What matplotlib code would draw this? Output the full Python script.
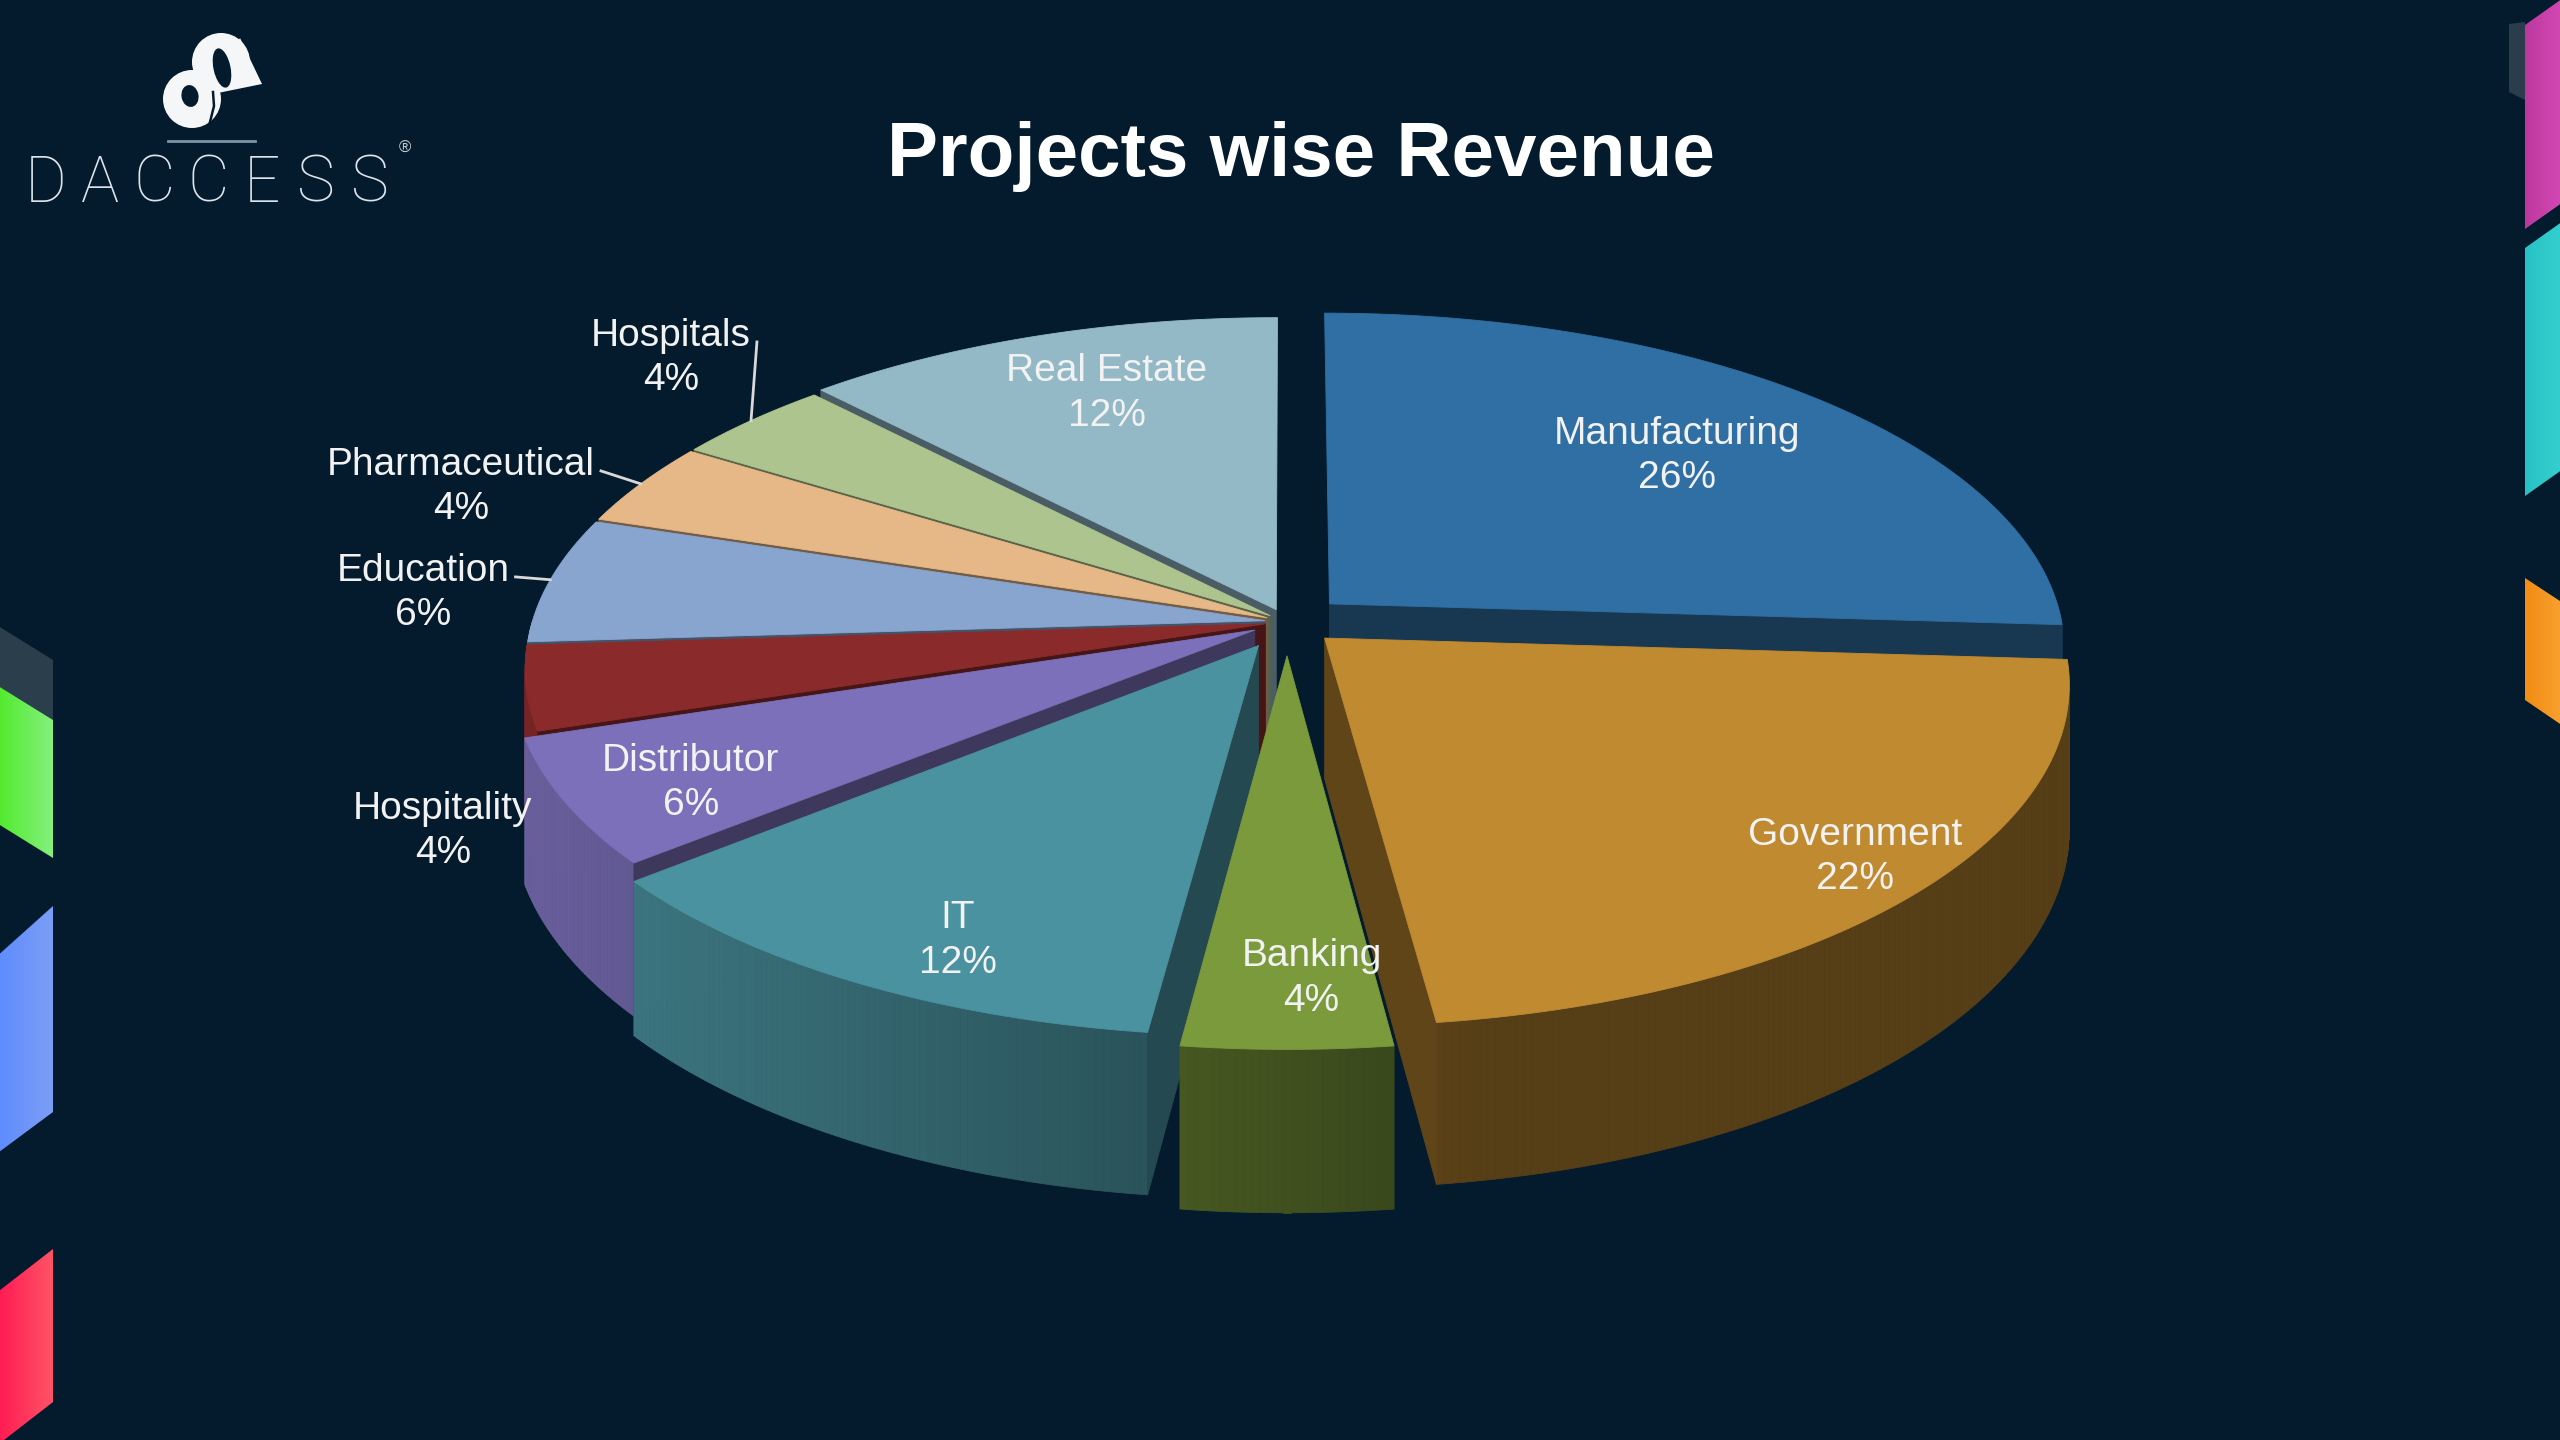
"""Projects wise Revenue - 3D exploded pie on a dark slide, drawn with matplotlib."""

import numpy as np
import matplotlib
matplotlib.use('Agg')
import matplotlib.pyplot as plt
from matplotlib.patches import Polygon, Circle, Ellipse
from matplotlib.collections import PolyCollection
from matplotlib.colors import to_rgb

# ---- data -------------------------------------------------------------
categories = ['Manufacturing', 'Government', 'Banking', 'IT', 'Distributor',
              'Hospitality', 'Education', 'Pharmaceutical', 'Hospitals', 'Real Estate']
shares = [26, 22, 4, 12, 6, 4, 6, 4, 4, 12]
colors = ['#2F6FA3', '#C08A31', '#7B9A3B', '#4A929F', '#7B70B9',
          '#8B2A2B', '#88A5D0', '#E6B887', '#AEC48F', '#93B9C7']
explode = [0.08, 0.07, 0.10, 0.08, 0.05, 0.03, 0.03, 0.03, 0.03, 0.04]

# ---- canvas -----------------------------------------------------------
W, H = 2560, 1440
BG = '#041B2D'

fig = plt.figure(figsize=(W / 100, H / 100), dpi=100)
fig.patch.set_facecolor(BG)
ax = fig.add_axes([0, 0, 1, 1])
ax.set_xlim(0, W)
ax.set_ylim(H, 0)  # pixel coords, y down
ax.axis('off')

plt.rcParams['font.family'] = ['Liberation Sans', 'DejaVu Sans']


def grad_poly(pts, c0, c1, z=1):
    """Polygon filled with a left->right gradient."""
    poly = Polygon(pts, closed=True, facecolor='none', edgecolor='none')
    ax.add_patch(poly)
    xs = [p[0] for p in pts]
    ys = [p[1] for p in pts]
    g = np.linspace(0, 1, 64)
    a, b = np.array(to_rgb(c0)), np.array(to_rgb(c1))
    img = (a[None, :] + (b - a)[None, :] * g[:, None])[None, :, :]
    im = ax.imshow(img, extent=(min(xs), max(xs), max(ys), min(ys)),
                   aspect='auto', interpolation='bilinear', zorder=z)
    im.set_clip_path(poly)


# side decorations
ax.add_patch(Polygon([(2509, 24), (2525, 22), (2525, 100), (2509, 92)],
                     facecolor='#2B3D4C', edgecolor='none', zorder=1))
grad_poly([(2525, 25), (2566, -4), (2566, 200), (2525, 229)], '#BC389F', '#D64BB6')
grad_poly([(2525, 248), (2566, 219), (2566, 467), (2525, 496)], '#27C2C4', '#38D1D2')
grad_poly([(2525, 578), (2566, 605), (2566, 728), (2525, 700)], '#F28C14', '#F8A332')

ax.add_patch(Polygon([(-5, 624), (53, 660), (53, 720), (-5, 684)],
                     facecolor='#2B3E4C', edgecolor='none', zorder=1))
grad_poly([(-5, 684), (53, 720), (53, 858), (-5, 822)], '#4FEA28', '#84F07E')
grad_poly([(-5, 958), (53, 906), (53, 1112), (-5, 1155)], '#5C8BFF', '#7C9EF4')
grad_poly([(-5, 1294), (53, 1249), (53, 1402), (-5, 1447)], '#FF1752', '#FF5366')

# ---- logo -------------------------------------------------------------
WHITE = '#F4F6F8'
ax.add_patch(Circle((221, 62), 29, facecolor=WHITE, edgecolor='none', zorder=3))
ax.add_patch(Polygon([(240, 38), (262, 84), (208, 95)], facecolor=WHITE,
                     edgecolor='none', zorder=3))
ax.add_patch(Circle((192, 99), 29, facecolor=WHITE, edgecolor='none', zorder=3))
ax.add_patch(Ellipse((222, 68), 17, 40, angle=-12, facecolor=BG, edgecolor='none', zorder=4))
ax.add_patch(Ellipse((190, 96), 17, 22, angle=-10, facecolor=BG, edgecolor='none', zorder=4))
ax.plot([207, 210, 212], [54, 75, 98], color=WHITE, lw=5, solid_capstyle='round', zorder=5)
ax.plot([213, 214, 210], [92, 106, 122], color=BG, lw=1.8, zorder=5)
ax.plot([168, 255], [141, 141], color='#7F93A6', lw=2, zorder=3)
for i, ch in enumerate('DACCESS'):
    ax.text(46 + 54 * i, 184, ch, fontsize=46, color='#DCE3EA', ha='center', va='center',
            family=['Roboto', 'DejaVu Sans'], fontweight='light', zorder=3)
ax.text(405, 148, '®', fontsize=12, color='#C8D0D8', ha='center', va='center', zorder=3)

# ---- title ------------------------------------------------------------
ax.text(1301, 156, 'Projects wise Revenue', fontsize=55, fontweight='bold',
        color='white', ha='center', va='center', zorder=3)

# ---- 3D pie -----------------------------------------------------------
CX, CY = 1287, 622   # pie centre in pixels
R = 733              # horizontal radius
KR = 333             # vertical radius (tilt)
P = 0.13             # perspective strength
T = 140              # thickness in pixels
LIGHT = np.radians(-170)


def proj(X, Y, z=0.0):
    s = 1.0 / (1.0 + P * Y)
    return (CX + X * R * s, CY - Y * KR * s + z * s)


def shade(c, f):
    return tuple(np.clip(np.array(to_rgb(c)) * f, 0, 1))


total = float(sum(shares))
deg = [360.0 * v / total for v in shares]
ends = 90.0 - np.concatenate([[0.0], np.cumsum(deg)[:-1]])
starts = ends - np.array(deg)

slices = []
for i, name in enumerate(categories):
    a0, a1 = np.radians(starts[i]), np.radians(ends[i])
    mid = 0.5 * (a0 + a1)
    ox, oy = explode[i] * np.cos(mid), explode[i] * np.sin(mid)
    depth = oy + 0.5 * np.sin(mid)
    slices.append((depth, i, a0, a1, mid, ox, oy))

slices.sort(key=lambda s: -s[0])  # back to front

z = 10
for depth, i, a0, a1, mid, ox, oy in slices:
    col = colors[i]
    n = max(10, int(np.degrees(a1 - a0) * 2))
    t = np.linspace(a0, a1, n)

    # outer wall (front-facing part only)
    quads, fcs = [], []
    for j in range(n - 1):
        tm = 0.5 * (t[j] + t[j + 1])
        if np.sin(tm) >= 0:
            continue
        p1 = proj(ox + np.cos(t[j]), oy + np.sin(t[j]))
        p2 = proj(ox + np.cos(t[j + 1]), oy + np.sin(t[j + 1]))
        p3 = proj(ox + np.cos(t[j + 1]), oy + np.sin(t[j + 1]), T)
        p4 = proj(ox + np.cos(t[j]), oy + np.sin(t[j]), T)
        quads.append([p1, p2, p3, p4])
        f = 0.45 + 0.4 * max(0.0, np.cos(tm - LIGHT))
        fcs.append(shade(col, f))
    if quads:
        ax.add_collection(PolyCollection(quads, facecolors=fcs, edgecolors=fcs,
                                         linewidths=0.6, zorder=z))

    # radial cut walls
    for a, nrm in ((a0, a0 - np.pi / 2), (a1, a1 + np.pi / 2)):
        if np.sin(nrm) < -1e-6:
            pts = [proj(ox, oy), proj(ox + np.cos(a), oy + np.sin(a)),
                   proj(ox + np.cos(a), oy + np.sin(a), T), proj(ox, oy, T)]
            ax.add_patch(Polygon(pts, closed=True, facecolor=shade(col, 0.5),
                                 edgecolor=shade(col, 0.5), lw=0.6, zorder=z + 1))

    # top face
    top = [proj(ox, oy)] + [proj(ox + np.cos(a), oy + np.sin(a)) for a in t]
    ax.add_patch(Polygon(top, closed=True, facecolor=col, edgecolor=col,
                         lw=0.6, zorder=z + 2))
    z += 3

# ---- labels -----------------------------------------------------------
# inside labels: (radius fraction, angle nudge in degrees)
inside_lab = {'Manufacturing': (0.70, 0), 'Government': (0.89, 1), 'Banking': (0.84, 2),
              'IT': (0.86, 4), 'Distributor': (0.84, 2), 'Real Estate': (0.76, -2)}
outside_pos = {'Hospitality': (443, 831), 'Education': (423, 593),
               'Pharmaceutical': (461, 487), 'Hospitals': (671, 358)}
leader = ['Education', 'Pharmaceutical', 'Hospitals']

fig.canvas.draw()
renderer = fig.canvas.get_renderer()
for depth, i, a0, a1, mid, ox, oy in slices:
    name = categories[i]
    txt = f'{name}\n{shares[i]}%'
    if name in inside_lab:
        r, da = inside_lab[name]
        am = mid + np.radians(da)
        x, y = proj(ox + r * np.cos(am), oy + r * np.sin(am))
        ax.text(x, y, txt, fontsize=28, color='#F2F2F2', ha='center', va='center',
                linespacing=1.3, zorder=200)
    else:
        x, y = outside_pos[name]
        tx = ax.text(x, y, txt, fontsize=28, color='#F2F2F2', ha='center', va='center',
                     linespacing=1.3, zorder=200)
        if name in leader:
            bb = tx.get_window_extent(renderer).transformed(ax.transData.inverted())
            y_top = min(bb.y0, bb.y1)
            sx, sy = max(bb.x0, bb.x1) + 6, y_top + 0.3 * abs(bb.y1 - bb.y0)
            ex, ey = proj(ox + np.cos(mid), oy + np.sin(mid))
            ax.plot([sx, ex], [sy, ey], color='#D9D9D9', lw=2, zorder=199)

ax.set_xlim(0, W)
ax.set_ylim(H, 0)
fig.savefig('out.png', dpi=100, facecolor=fig.get_facecolor())
